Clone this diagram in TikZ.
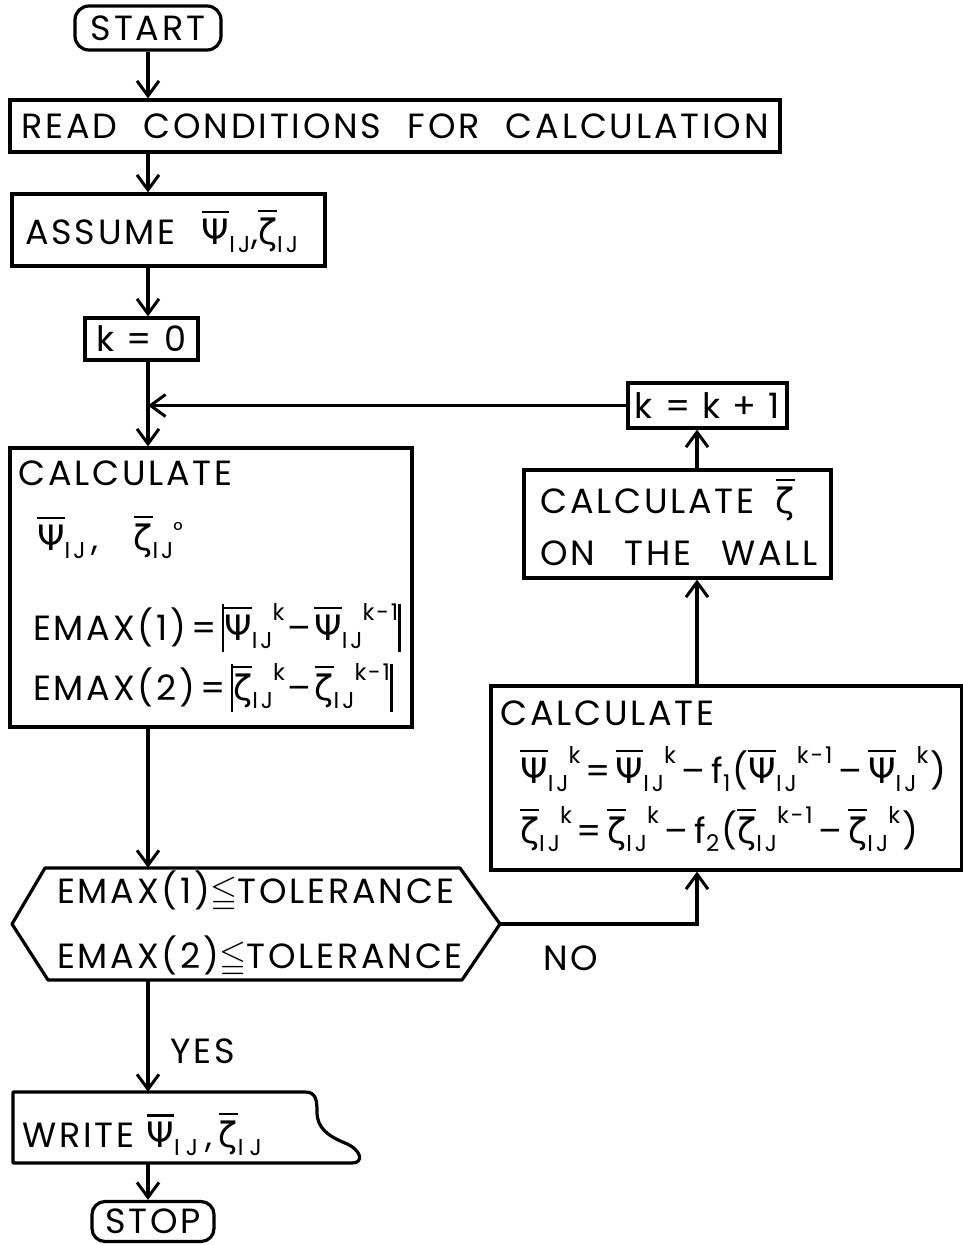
\documentclass[tikz,border=0pt]{standalone}
\usepackage{amssymb}
\usepackage{fontspec}
\setmainfont{Poppins}[LetterSpace=8]
\newfontfamily\gr{DejaVu Sans}
\usetikzlibrary{arrows.meta}
\newcommand\ssz{\fontsize{23}{23}\selectfont}
\newcommand\lo[1]{\raisebox{-8pt}{\ssz #1}}
\newcommand\hi[1]{\raisebox{20pt}{\ssz #1}}
\newcommand\ob[1]{\leavevmode\vbox{\hrule height 2.6pt\kern 5pt\hbox{#1}}}
\newcommand\PS{\ob{\gr Ψ}}
\newcommand\ZE{\ob{\gr ζ}}
\newcommand\sIJ{I\kern3pt J}
\newcommand\absb{\rule[-12pt]{2.6pt}{48pt}}
\newcommand\mn{\kern6pt–\kern6pt}
\newcommand\mns{\kern3pt–\kern3pt}
\newcommand\eq{\kern5pt=\kern5pt}
\begin{document}
\begin{tikzpicture}[x=1pt,y=-1pt,
  every node/.style={font=\fontsize{35}{40}\selectfont, inner sep=0},
  box/.style={draw, line width=3.2pt, inner sep=0},
  lbl/.style={anchor=base west},
  flow/.style={line width=3.2pt},
  arr/.style={flow, -{Straight Barb[length=15pt,width=22pt,line width=3pt]}},
]
\useasboundingbox (0,0) rectangle (963,1245);

\node[box, rounded corners=14pt, minimum width=146pt, minimum height=44pt] (start) at (148,28) {START};
\node[box, minimum width=770pt, minimum height=52pt] (read) at (395,126)
  {READ\hspace{0.75em}CONDITIONS\hspace{0.75em}FOR\hspace{0.75em}CALCULATION};
\node[box, minimum width=313pt, minimum height=72pt] (assume) at (168.5,230) {};
\node[lbl] (assumeT) at (25,244) {ASSUME\hspace{0.75em}\PS\lo{\sIJ}\kern1pt,\ZE\lo{\sIJ}};
\node[box, minimum width=113pt, minimum height=42pt] (k0) at (141.5,339) {k = 0};

\node[box, minimum width=402pt, minimum height=279pt] (calcL) at (211,587.5) {};
\node[lbl] (cl1) at (18,485) {CALCULATE};
\node[lbl] (cl2) at (37,550) {\PS\lo{\sIJ}\kern6pt,\hspace{1em}\ZE\lo{\sIJ}\raisebox{12pt}{\ssz °}};
\node[lbl] (cl3) at (33,640) {EMAX(1)\eq\absb\PS\lo{\sIJ}\hi{k}\mns\PS\lo{\sIJ}\hi{k-1}\absb};
\node[lbl] (cl4) at (33,700) {EMAX(2)\eq\absb\ZE\lo{\sIJ}\hi{k}\mns\ZE\lo{\sIJ}\hi{k-1}\absb};

\node[box, minimum width=159pt, minimum height=45pt] (kk) at (707.5,405.5) {k = k + 1};
\node[box, minimum width=307pt, minimum height=108pt] (calcZ) at (677.5,524) {};
\node[lbl] (cz1) at (540,513) {CALCULATE\hspace{0.6em}\ZE};
\node[lbl] (cz2) at (540,565) {ON\hspace{0.85em}THE\hspace{0.85em}WALL};

\node[box, minimum width=471pt, minimum height=184pt] (calcR) at (726.5,778) {};
\node[lbl] (cr1) at (500,725) {CALCULATE};
\node[lbl] (cr2) at (520,783) {\PS\lo{\sIJ}\hi{k}\eq\PS\lo{\sIJ}\hi{k}\mn f\lo{1}\kern2pt(\PS\lo{\sIJ}\hi{k-1}\mn\PS\lo{\sIJ}\hi{k}\kern2pt)};
\node[lbl] (cr3) at (520,843) {\ZE\lo{\sIJ}\hi{k}\eq\ZE\lo{\sIJ}\hi{k}\mn f\lo{2}\kern2pt(\ZE\lo{\sIJ}\hi{k-1}\mn\ZE\lo{\sIJ}\hi{k}\kern2pt)};

\node[minimum width=488pt, minimum height=112pt] (dec) at (256,924) {};
\draw[flow, line join=round] (12,924) -- (45,868) -- (460,868) -- (500,924) -- (462,980) -- (48,980) -- cycle;
\node[lbl] (d1) at (57,903) {EMAX(1)$\leqq$TOLERANCE};
\node[lbl] (d2) at (57,968) {EMAX(2)$\leqq$TOLERANCE};
\node[lbl] (no) at (543,970) {NO};
\node[lbl] (yes) at (170,1063) {YES};

\node[minimum width=347pt, minimum height=71pt] (write) at (186.5,1127.5) {};
\draw[flow, line join=round] (13,1092) -- (305,1092) .. controls (316,1092) and (317,1100) .. (317,1112)
  .. controls (317,1128) and (328,1136) .. (345,1143) .. controls (362,1150) and (364,1163) .. (352,1163)
  -- (13,1163) -- cycle;
\node[lbl] (writeT) at (22,1147) {WRITE\hspace{0.35em}\PS\lo{I\kern6pt J}\kern8pt,\kern6pt\ZE\lo{I\kern6pt J}};
\node[box, rounded corners=13pt, minimum width=122pt, minimum height=40pt] (stop) at (153,1221.5) {STOP};

\coordinate (rc) at (697,0);
\draw[arr] (start.south) -- (start.south |- read.north);
\draw[arr] (start.south |- read.south) -- (start.south |- assume.north);
\draw[arr] (start.south |- assume.south) -- (start.south |- k0.north);
\draw[arr] (start.south |- k0.south) -- (start.south |- calcL.north);
\coordinate (join) at (start.south |- kk.west);
\draw[arr] (kk.west) -- (join);
\draw[arr] (calcZ.north -| rc) -- (kk.south -| rc);
\draw[arr] (calcR.north -| rc) -- (calcZ.south -| rc);
\draw[arr] (start.south |- calcL.south) -- (start.south |- dec.north);
\draw[arr] (dec.east) -| (calcR.south -| rc);
\draw[arr] (start.south |- dec.south) -- (start.south |- write.north);
\draw[arr] (start.south |- write.south) -- (start.south |- stop.north);
\end{tikzpicture}
\end{document}
